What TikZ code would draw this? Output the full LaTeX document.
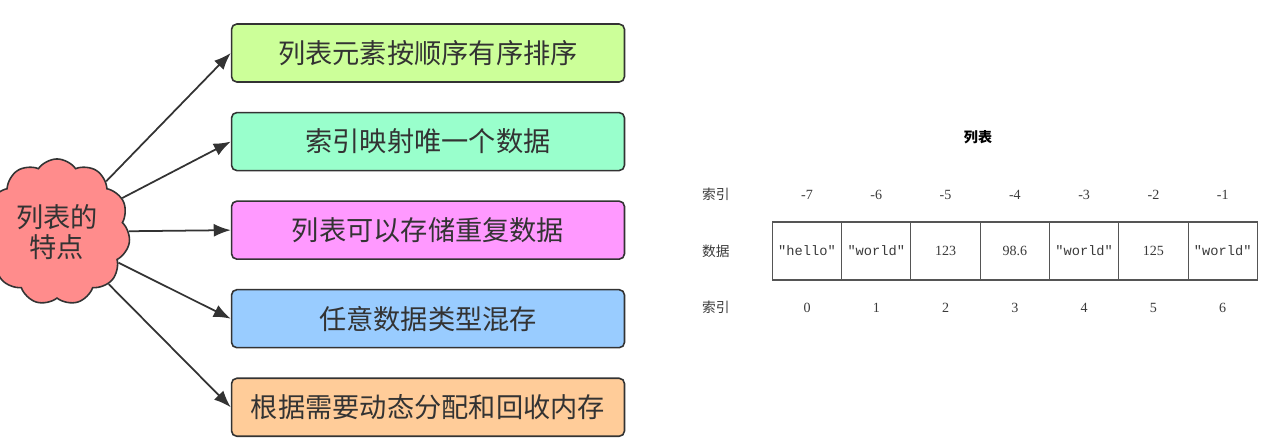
\documentclass[tikz,border=0pt]{standalone}
\usepackage{fontspec}
\setmainfont{Liberation Serif}
\setmonofont{Liberation Mono}
\newfontfamily\cjk{Noto Sans CJK SC}
\usepackage{xcolor}
\definecolor{ink}{HTML}{333333}
\definecolor{cloudred}{HTML}{FF8C8C}
\definecolor{boxgreen}{HTML}{CCFF99}
\definecolor{boxmint}{HTML}{99FFCC}
\definecolor{boxpink}{HTML}{FF99FF}
\definecolor{boxblue}{HTML}{99CCFF}
\definecolor{boxpeach}{HTML}{FFCC99}
\definecolor{cellline}{HTML}{555555}
\definecolor{tabletext}{HTML}{3A3A3A}
\usetikzlibrary{positioning,shapes.symbols,arrows.meta}

\begin{document}
\begin{tikzpicture}[x=0.02cm,y=-0.02cm,
  node distance=0.58cm,
  cloudnode/.style={cloud,cloud puffs=11,cloud puff arc=110,minimum width=2.25cm,
    minimum height=2.05cm,draw=ink,line width=0.9pt,fill=cloudred,text=ink,
    align=center,font=\cjk\fontsize{15.5}{17.5}\selectfont},
  featbox/.style={rectangle,rounded corners=3pt,minimum width=7.86cm,
    minimum height=1.16cm,draw=ink,line width=0.9pt,text=ink,
    font=\cjk\fontsize{15.5}{18}\selectfont},
  arr/.style={-{Latex[length=3.4mm,width=2.6mm]},color=ink,line width=1pt},
  cell/.style={rectangle,outer sep=0pt,minimum width=1.386cm,minimum height=1.16cm,
    draw=cellline,line width=0.6pt,text=tabletext,font=\ttfamily\fontsize{7.8}{9}\selectfont},
  numcell/.style={cell,font=\fontsize{8}{9}\selectfont},
  idx/.style={inner sep=2pt,text=tabletext,font=\fontsize{8}{9}\selectfont},
  rowlbl/.style={inner sep=2pt,text=tabletext,font=\cjk\fontsize{7.8}{9}\selectfont},
  ttl/.style={text=black,font=\cjk\bfseries\fontsize{8}{10}\selectfont}
]
  \useasboundingbox (0,0) rectangle (1283,437);

  % left: features of a list
  \node[cloudnode] (feat) at (57,232) {列表的\\特点};
  \node[featbox,fill=boxgreen] (b1) at (428,53) {列表元素按顺序有序排序};
  \node[featbox,fill=boxmint,below=of b1] (b2) {索引映射唯一个数据};
  \node[featbox,fill=boxpink,below=of b2] (b3) {列表可以存储重复数据};
  \node[featbox,fill=boxblue,below=of b3] (b4) {任意数据类型混存};
  \node[featbox,fill=boxpeach,below=of b4] (b5) {根据需要动态分配和回收内存};

  \draw[arr] (feat) -- (b1.west);
  \draw[arr] (feat) -- (b2.west);
  \draw[arr] (feat) -- (b3.west);
  \draw[arr] (feat) -- (b4.west);
  \draw[arr] (feat) -- (b5.west);

  % right: the list table
  \node[ttl] (title) at (978,137) {列表};
  \node[cell] (c1) at (807,251) {"hello"};
  \node[cell,right=0pt of c1] (c2) {"world"};
  \node[numcell,right=0pt of c2] (c3) {123};
  \node[numcell,right=0pt of c3] (c4) {98.6};
  \node[cell,right=0pt of c4] (c5) {"world"};
  \node[numcell,right=0pt of c5] (c6) {125};
  \node[cell,right=0pt of c6] (c7) {"world"};

  \node[idx,above=0.38cm of c1] (n7) {-7};
  \node[idx,above=0.38cm of c2] (n6) {-6};
  \node[idx,above=0.38cm of c3] (n5) {-5};
  \node[idx,above=0.38cm of c4] (n4) {-4};
  \node[idx,above=0.38cm of c5] (n3) {-3};
  \node[idx,above=0.38cm of c6] (n2) {-2};
  \node[idx,above=0.38cm of c7] (n1) {-1};

  \node[idx,below=0.38cm of c1] (p0) {0};
  \node[idx,below=0.38cm of c2] (p1) {1};
  \node[idx,below=0.38cm of c3] (p2) {2};
  \node[idx,below=0.38cm of c4] (p3) {3};
  \node[idx,below=0.38cm of c5] (p4) {4};
  \node[idx,below=0.38cm of c6] (p5) {5};
  \node[idx,below=0.38cm of c7] (p6) {6};

  \node[rowlbl,left=0.78cm of c1] (rdata) {数据};
  \node[rowlbl] (rneg) at (rdata |- n7) {索引};
  \node[rowlbl] (rpos) at (rdata |- p0) {索引};
\end{tikzpicture}
\end{document}
